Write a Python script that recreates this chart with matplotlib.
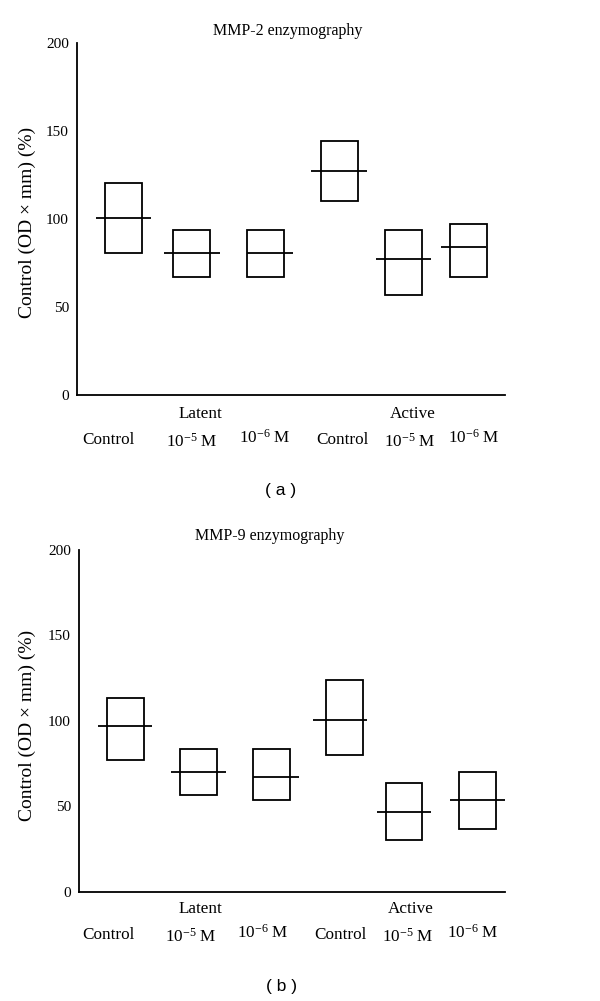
import matplotlib
matplotlib.use("Agg")
import matplotlib.pyplot as plt

plt.rcParams['font.family'] = ['Liberation Serif', 'DejaVu Serif']
plt.rcParams['mathtext.fontset'] = 'custom'
plt.rcParams['mathtext.rm'] = 'Liberation Serif'

# ---- data ----
categories = ["Control", "$\\mathregular{10^{-5}}$ M", "$\\mathregular{10^{-6}}$ M",
              "Control", "$\\mathregular{10^{-5}}$ M", "$\\mathregular{10^{-6}}$ M"]
group_labels = ["Latent", "Active"]
yticks = [0, 50, 100, 150, 200]

mmp2_top = [120.5, 93.9, 93.9, 144.0, 93.9, 97.3]
mmp2_median = [100.5, 80.4, 80.4, 127.2, 77.2, 83.8]
mmp2_bottom = [80.4, 67.0, 67.0, 110.3, 57.0, 67.0]

mmp9_top = [113.6, 83.5, 83.5, 123.7, 63.4, 70.0]
mmp9_median = [97.0, 70.2, 66.9, 100.5, 46.8, 53.5]
mmp9_bottom = [76.9, 56.8, 53.5, 80.2, 30.0, 36.7]

# ---- layout / style ----
W, H = 600, 1001
fig = plt.figure(figsize=(6.0, 10.01), dpi=100)

panels = [
    dict(title="MMP-2 enzymography", tag="( a )",
         top=mmp2_top, med=mmp2_median, bot=mmp2_bottom,
         rect=[77.3 / W, 1 - 395 / H, (505 - 77.3) / W, (395 - 42.7) / H],
         pos=[0.107, 0.268, 0.4405, 0.6126, 0.763, 0.914], width=0.0865,
         extL=[0.021, 0.021, 0.0, 0.022, 0.022, 0.021],
         extR=[0.021, 0.022, 0.021, 0.021, 0.021, -0.002],
         title_xy=(288, 31), tag_xy=(281, 490), ylab_xy=(27, 222),
         cat_x=[108.7, 191.7, 265, 342.3, 410, 474],
         cat_y=[440, 442, 438, 440, 442, 438],
         grp_xy=[(200.7, 414), (412.7, 414)]),
    dict(title="MMP-9 enzymography", tag="( b )",
         top=mmp9_top, med=mmp9_median, bot=mmp9_bottom,
         rect=[79.3 / W, 1 - 891.7 / H, (505 - 79.3) / W, (891.7 - 550) / H],
         pos=[0.108, 0.2795, 0.452, 0.6234, 0.763, 0.935], width=0.0862,
         extL=[0.021, 0.021, 0.0, 0.0305, 0.021, 0.021],
         extR=[0.020, 0.021, 0.020, 0.010, 0.021, 0.021],
         title_xy=(269.3, 535.7), tag_xy=(281, 986.7), ylab_xy=(27, 725),
         cat_x=[108, 190.7, 263, 340.7, 408, 472.3],
         cat_y=[935, 937, 933, 935, 937, 933],
         grp_xy=[(200, 909), (410.7, 909)]),
]

lw = 1.3
for p in panels:
    ax = fig.add_axes(p["rect"])
    heights = [t - b for t, b in zip(p["top"], p["bot"])]
    ax.bar(p["pos"], heights, bottom=p["bot"], width=p["width"], fill=False,
           edgecolor="black", linewidth=lw)
    for x, m, l, r in zip(p["pos"], p["med"], p["extL"], p["extR"]):
        ax.hlines(m, x - p["width"] / 2 - l, x + p["width"] / 2 + r,
                  color="black", linewidth=lw)
    ax.set_xlim(0, 1)
    ax.set_ylim(0, 200)
    ax.set_yticks(yticks)
    ax.set_xticks([])
    ax.tick_params(axis="y", length=0, pad=6, labelsize=11)
    for s in ["top", "right"]:
        ax.spines[s].set_visible(False)
    for s in ["left", "bottom"]:
        ax.spines[s].set_linewidth(lw)
    fig.text(p["title_xy"][0] / W, 1 - p["title_xy"][1] / H, p["title"],
             ha="center", va="center", fontsize=11.5)
    fig.text(p["ylab_xy"][0] / W, 1 - p["ylab_xy"][1] / H,
             "Control (OD × mm) (%)", rotation=90, ha="center", va="center",
             fontsize=14)
    for lab, x, y in zip(categories, p["cat_x"], p["cat_y"]):
        fig.text(x / W, 1 - y / H, lab, ha="center", va="center", fontsize=12.3)
    for lab, (x, y) in zip(group_labels, p["grp_xy"]):
        fig.text(x / W, 1 - y / H, lab, ha="center", va="center", fontsize=12.3)
    fig.text(p["tag_xy"][0] / W, 1 - p["tag_xy"][1] / H, p["tag"],
             ha="center", va="center", fontsize=12.5, family="Liberation Sans")

fig.savefig("out.png", dpi=100)
